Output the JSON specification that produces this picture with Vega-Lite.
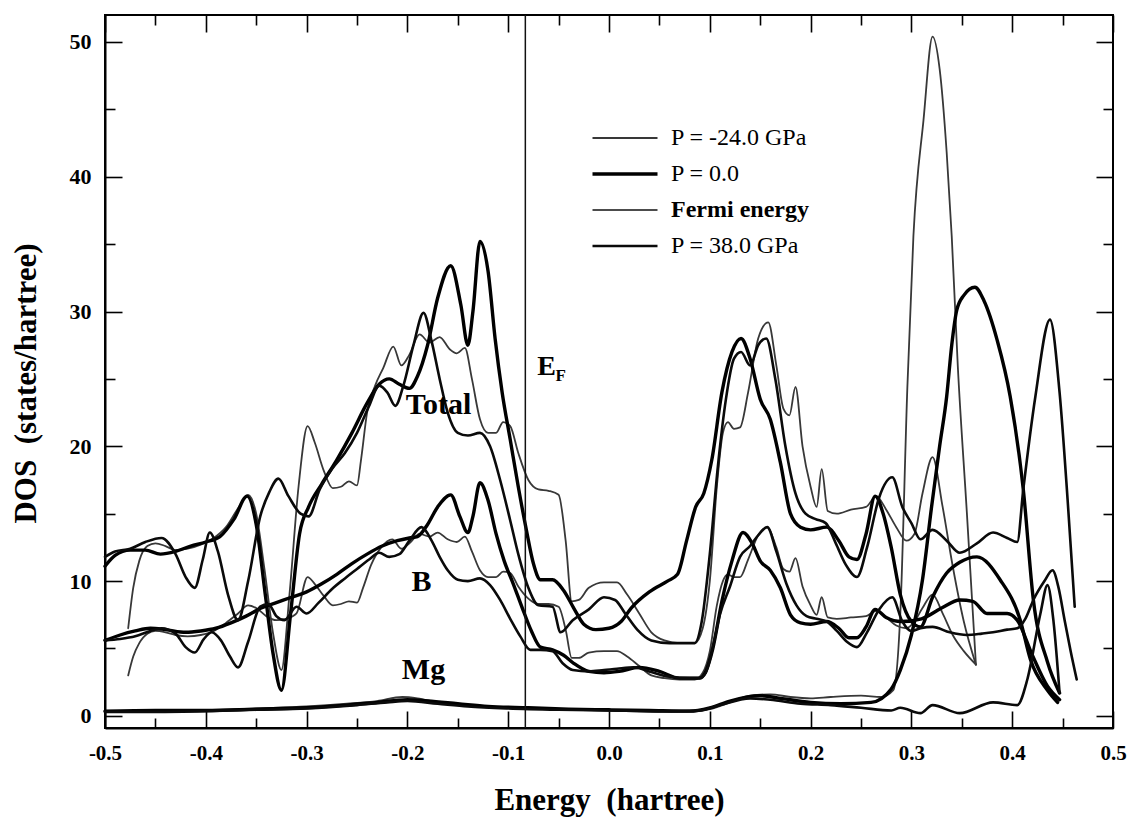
{
"$schema":"https://vega.github.io/schema/vega-lite/v6.json",
"width":1008,"height":713,
"autosize":{"type":"none"},
"padding":{"left":105,"top":15,"right":17,"bottom":99},
"background":"white",
"config":{
 "view":{"stroke":"#000","strokeWidth":2},
 "font":"Liberation Serif",
 "axis":{"grid":false,"domainColor":"#000","domainWidth":2,"tickColor":"#000","tickWidth":1.6,"labelFont":"Liberation Serif","labelFontWeight":"bold","labelColor":"#000","titleFont":"Liberation Serif","titleFontWeight":"bold","titleColor":"#000"},
 "legend":{"orient":"none","legendX":508,"legendY":111,"symbolType":"M-3.25,0H3.25","symbolSize":400,"labelFont":"Liberation Serif","labelFontSize":24,"labelColor":"#000","labelOffset":34,"rowPadding":12,"labelLimit":400},
 "text":{"font":"Liberation Serif","fontWeight":"bold","color":"#000"}
},
"datasets":{
"fermi":[{"p":"c","E":-0.083}],
"labels":[{"t":"Total","E":-0.169,"D":23.1},{"t":"B","E":-0.186,"D":9.9},{"t":"Mg","E":-0.184,"D":3.4}],
"efE":[{"t":"E","E":-0.062,"D":25.9}],
"efF":[{"t":"F","E":-0.062,"D":25.9}],
"curves":[
{"p":"a","c":"T","E":-0.477,"D":6.5},{"p":"a","c":"T","E":-0.472,"D":9.5},{"p":"a","c":"T","E":-0.466,"D":11.5},{"p":"a","c":"T","E":-0.458,"D":12.6},{"p":"a","c":"T","E":-0.45,"D":12.8},{"p":"a","c":"T","E":-0.44,"D":12.6},{"p":"a","c":"T","E":-0.43,"D":12.3},{"p":"a","c":"T","E":-0.418,"D":12.4},{"p":"a","c":"T","E":-0.405,"D":12.7},{"p":"a","c":"T","E":-0.392,"D":13.2},{"p":"a","c":"T","E":-0.38,"D":14.0},{"p":"a","c":"T","E":-0.368,"D":15.4},{"p":"a","c":"T","E":-0.358,"D":16.4},{"p":"a","c":"T","E":-0.35,"D":15.0},{"p":"a","c":"T","E":-0.342,"D":11.0},{"p":"a","c":"T","E":-0.333,"D":6.0},{"p":"a","c":"T","E":-0.325,"D":3.4},{"p":"a","c":"T","E":-0.317,"D":9.0},{"p":"a","c":"T","E":-0.308,"D":17.0},{"p":"a","c":"T","E":-0.299,"D":21.5},{"p":"a","c":"T","E":-0.292,"D":20.3},{"p":"a","c":"T","E":-0.283,"D":18.2},{"p":"a","c":"T","E":-0.274,"D":16.9},{"p":"a","c":"T","E":-0.266,"D":17.0},{"p":"a","c":"T","E":-0.258,"D":17.4},{"p":"a","c":"T","E":-0.25,"D":17.1},{"p":"a","c":"T","E":-0.246,"D":19.0},{"p":"a","c":"T","E":-0.24,"D":22.5},{"p":"a","c":"T","E":-0.232,"D":24.5},{"p":"a","c":"T","E":-0.224,"D":25.8},{"p":"a","c":"T","E":-0.214,"D":27.4},{"p":"a","c":"T","E":-0.206,"D":26.0},{"p":"a","c":"T","E":-0.198,"D":26.8},{"p":"a","c":"T","E":-0.188,"D":28.3},{"p":"a","c":"T","E":-0.178,"D":27.7},{"p":"a","c":"T","E":-0.168,"D":28.1},{"p":"a","c":"T","E":-0.158,"D":27.2},{"p":"a","c":"T","E":-0.151,"D":26.9},{"p":"a","c":"T","E":-0.143,"D":27.3},{"p":"a","c":"T","E":-0.136,"D":25.0},{"p":"a","c":"T","E":-0.128,"D":22.0},{"p":"a","c":"T","E":-0.12,"D":21.0},{"p":"a","c":"T","E":-0.112,"D":21.0},{"p":"a","c":"T","E":-0.105,"D":21.8},{"p":"a","c":"T","E":-0.098,"D":21.5},{"p":"a","c":"T","E":-0.09,"D":19.5},{"p":"a","c":"T","E":-0.08,"D":17.5},{"p":"a","c":"T","E":-0.07,"D":16.8},{"p":"a","c":"T","E":-0.06,"D":16.7},{"p":"a","c":"T","E":-0.05,"D":16.4},{"p":"a","c":"T","E":-0.043,"D":13.0},{"p":"a","c":"T","E":-0.037,"D":8.5},{"p":"a","c":"T","E":-0.03,"D":8.6},{"p":"a","c":"T","E":-0.02,"D":9.5},{"p":"a","c":"T","E":-0.005,"D":9.9},{"p":"a","c":"T","E":0.008,"D":9.9},{"p":"a","c":"T","E":0.018,"D":9.0},{"p":"a","c":"T","E":0.03,"D":7.6},{"p":"a","c":"T","E":0.042,"D":6.2},{"p":"a","c":"T","E":0.055,"D":5.6},{"p":"a","c":"T","E":0.07,"D":5.4},{"p":"a","c":"T","E":0.085,"D":5.4},{"p":"a","c":"T","E":0.093,"D":6.5},{"p":"a","c":"T","E":0.1,"D":10.0},{"p":"a","c":"T","E":0.107,"D":17.0},{"p":"a","c":"T","E":0.113,"D":21.0},{"p":"a","c":"T","E":0.118,"D":21.8},{"p":"a","c":"T","E":0.124,"D":21.3},{"p":"a","c":"T","E":0.13,"D":21.4},{"p":"a","c":"T","E":0.138,"D":24.0},{"p":"a","c":"T","E":0.148,"D":28.0},{"p":"a","c":"T","E":0.158,"D":29.2},{"p":"a","c":"T","E":0.166,"D":26.0},{"p":"a","c":"T","E":0.173,"D":22.8},{"p":"a","c":"T","E":0.179,"D":22.3},{"p":"a","c":"T","E":0.185,"D":24.4},{"p":"a","c":"T","E":0.192,"D":20.0},{"p":"a","c":"T","E":0.2,"D":17.0},{"p":"a","c":"T","E":0.206,"D":15.5},{"p":"a","c":"T","E":0.211,"D":18.3},{"p":"a","c":"T","E":0.217,"D":15.2},{"p":"a","c":"T","E":0.226,"D":15.0},{"p":"a","c":"T","E":0.24,"D":15.3},{"p":"a","c":"T","E":0.255,"D":15.5},{"p":"a","c":"T","E":0.265,"D":16.3},{"p":"a","c":"T","E":0.275,"D":15.3},{"p":"a","c":"T","E":0.285,"D":14.0},{"p":"a","c":"T","E":0.295,"D":13.0},{"p":"a","c":"T","E":0.303,"D":13.5},{"p":"a","c":"T","E":0.311,"D":16.5},{"p":"a","c":"T","E":0.321,"D":19.2},{"p":"a","c":"T","E":0.331,"D":15.5},{"p":"a","c":"T","E":0.341,"D":11.1},{"p":"a","c":"T","E":0.352,"D":7.0},{"p":"a","c":"T","E":0.364,"D":3.8},

{"p":"a","c":"B","E":-0.477,"D":3.0},{"p":"a","c":"B","E":-0.472,"D":4.4},{"p":"a","c":"B","E":-0.466,"D":5.4},{"p":"a","c":"B","E":-0.458,"D":6.1},{"p":"a","c":"B","E":-0.45,"D":6.3},{"p":"a","c":"B","E":-0.44,"D":6.2},{"p":"a","c":"B","E":-0.43,"D":6.0},{"p":"a","c":"B","E":-0.418,"D":5.9},{"p":"a","c":"B","E":-0.405,"D":6.0},{"p":"a","c":"B","E":-0.392,"D":6.3},{"p":"a","c":"B","E":-0.38,"D":6.9},{"p":"a","c":"B","E":-0.368,"D":7.6},{"p":"a","c":"B","E":-0.358,"D":8.2},{"p":"a","c":"B","E":-0.35,"D":8.0},{"p":"a","c":"B","E":-0.34,"D":7.4},{"p":"a","c":"B","E":-0.33,"D":7.1},{"p":"a","c":"B","E":-0.32,"D":7.2},{"p":"a","c":"B","E":-0.31,"D":7.6},{"p":"a","c":"B","E":-0.299,"D":10.3},{"p":"a","c":"B","E":-0.292,"D":9.8},{"p":"a","c":"B","E":-0.283,"D":8.9},{"p":"a","c":"B","E":-0.274,"D":8.2},{"p":"a","c":"B","E":-0.266,"D":8.3},{"p":"a","c":"B","E":-0.258,"D":8.5},{"p":"a","c":"B","E":-0.25,"D":8.4},{"p":"a","c":"B","E":-0.244,"D":9.5},{"p":"a","c":"B","E":-0.236,"D":11.2},{"p":"a","c":"B","E":-0.226,"D":12.5},{"p":"a","c":"B","E":-0.215,"D":13.1},{"p":"a","c":"B","E":-0.206,"D":12.4},{"p":"a","c":"B","E":-0.198,"D":12.8},{"p":"a","c":"B","E":-0.188,"D":13.5},{"p":"a","c":"B","E":-0.178,"D":13.3},{"p":"a","c":"B","E":-0.17,"D":13.6},{"p":"a","c":"B","E":-0.16,"D":13.1},{"p":"a","c":"B","E":-0.151,"D":12.9},{"p":"a","c":"B","E":-0.143,"D":13.3},{"p":"a","c":"B","E":-0.136,"D":12.2},{"p":"a","c":"B","E":-0.128,"D":10.8},{"p":"a","c":"B","E":-0.12,"D":10.3},{"p":"a","c":"B","E":-0.112,"D":10.3},{"p":"a","c":"B","E":-0.105,"D":10.7},{"p":"a","c":"B","E":-0.098,"D":10.6},{"p":"a","c":"B","E":-0.09,"D":9.6},{"p":"a","c":"B","E":-0.08,"D":8.7},{"p":"a","c":"B","E":-0.07,"D":8.3},{"p":"a","c":"B","E":-0.06,"D":8.3},{"p":"a","c":"B","E":-0.05,"D":8.1},{"p":"a","c":"B","E":-0.043,"D":6.4},{"p":"a","c":"B","E":-0.037,"D":4.3},{"p":"a","c":"B","E":-0.03,"D":4.3},{"p":"a","c":"B","E":-0.02,"D":4.7},{"p":"a","c":"B","E":-0.005,"D":4.8},{"p":"a","c":"B","E":0.008,"D":4.8},{"p":"a","c":"B","E":0.018,"D":4.4},{"p":"a","c":"B","E":0.03,"D":3.7},{"p":"a","c":"B","E":0.042,"D":3.0},{"p":"a","c":"B","E":0.055,"D":2.8},{"p":"a","c":"B","E":0.07,"D":2.7},{"p":"a","c":"B","E":0.085,"D":2.7},{"p":"a","c":"B","E":0.093,"D":3.2},{"p":"a","c":"B","E":0.1,"D":4.8},{"p":"a","c":"B","E":0.107,"D":8.2},{"p":"a","c":"B","E":0.113,"D":10.0},{"p":"a","c":"B","E":0.118,"D":10.5},{"p":"a","c":"B","E":0.124,"D":10.3},{"p":"a","c":"B","E":0.13,"D":10.3},{"p":"a","c":"B","E":0.138,"D":11.6},{"p":"a","c":"B","E":0.148,"D":13.4},{"p":"a","c":"B","E":0.157,"D":14.0},{"p":"a","c":"B","E":0.166,"D":12.5},{"p":"a","c":"B","E":0.173,"D":10.9},{"p":"a","c":"B","E":0.179,"D":10.7},{"p":"a","c":"B","E":0.185,"D":11.7},{"p":"a","c":"B","E":0.192,"D":9.6},{"p":"a","c":"B","E":0.2,"D":8.2},{"p":"a","c":"B","E":0.206,"D":7.5},{"p":"a","c":"B","E":0.211,"D":8.8},{"p":"a","c":"B","E":0.217,"D":7.3},{"p":"a","c":"B","E":0.226,"D":7.2},{"p":"a","c":"B","E":0.24,"D":7.3},{"p":"a","c":"B","E":0.255,"D":7.4},{"p":"a","c":"B","E":0.265,"D":7.8},{"p":"a","c":"B","E":0.275,"D":7.3},{"p":"a","c":"B","E":0.285,"D":6.7},{"p":"a","c":"B","E":0.295,"D":6.5},{"p":"a","c":"B","E":0.303,"D":7.0},{"p":"a","c":"B","E":0.311,"D":8.0},{"p":"a","c":"B","E":0.321,"D":9.0},{"p":"a","c":"B","E":0.331,"D":7.6},{"p":"a","c":"B","E":0.341,"D":6.0},{"p":"a","c":"B","E":0.352,"D":4.8},{"p":"a","c":"B","E":0.364,"D":3.8},

{"p":"a","c":"Mg","E":-0.477,"D":0.3},{"p":"a","c":"Mg","E":-0.45,"D":0.35},{"p":"a","c":"Mg","E":-0.4,"D":0.4},{"p":"a","c":"Mg","E":-0.35,"D":0.55},{"p":"a","c":"Mg","E":-0.3,"D":0.7},{"p":"a","c":"Mg","E":-0.26,"D":0.9},{"p":"a","c":"Mg","E":-0.23,"D":1.1},{"p":"a","c":"Mg","E":-0.205,"D":1.4},{"p":"a","c":"Mg","E":-0.19,"D":1.3},{"p":"a","c":"Mg","E":-0.17,"D":1.0},{"p":"a","c":"Mg","E":-0.14,"D":0.8},{"p":"a","c":"Mg","E":-0.1,"D":0.6},{"p":"a","c":"Mg","E":-0.05,"D":0.5},{"p":"a","c":"Mg","E":0.0,"D":0.4},{"p":"a","c":"Mg","E":0.05,"D":0.3},{"p":"a","c":"Mg","E":0.08,"D":0.3},{"p":"a","c":"Mg","E":0.1,"D":0.5},{"p":"a","c":"Mg","E":0.12,"D":1.0},{"p":"a","c":"Mg","E":0.14,"D":1.5},{"p":"a","c":"Mg","E":0.16,"D":1.6},{"p":"a","c":"Mg","E":0.18,"D":1.4},{"p":"a","c":"Mg","E":0.2,"D":1.3},{"p":"a","c":"Mg","E":0.22,"D":1.4},{"p":"a","c":"Mg","E":0.25,"D":1.5},{"p":"a","c":"Mg","E":0.27,"D":1.4},{"p":"a","c":"Mg","E":0.282,"D":1.9},{"p":"a","c":"Mg","E":0.289,"D":7.6},{"p":"a","c":"Mg","E":0.296,"D":24.4},{"p":"a","c":"Mg","E":0.302,"D":35.6},{"p":"a","c":"Mg","E":0.312,"D":44.2},{"p":"a","c":"Mg","E":0.321,"D":50.4},{"p":"a","c":"Mg","E":0.328,"D":48.0},{"p":"a","c":"Mg","E":0.335,"D":41.8},{"p":"a","c":"Mg","E":0.34,"D":35.6},{"p":"a","c":"Mg","E":0.346,"D":26.0},{"p":"a","c":"Mg","E":0.355,"D":15.1},{"p":"a","c":"Mg","E":0.364,"D":3.8},

{"p":"b","c":"T","E":-0.5,"D":11.1},{"p":"b","c":"T","E":-0.49,"D":11.9},{"p":"b","c":"T","E":-0.475,"D":12.3},{"p":"b","c":"T","E":-0.46,"D":12.3},{"p":"b","c":"T","E":-0.445,"D":12.0},{"p":"b","c":"T","E":-0.43,"D":12.2},{"p":"b","c":"T","E":-0.415,"D":12.6},{"p":"b","c":"T","E":-0.4,"D":12.9},{"p":"b","c":"T","E":-0.386,"D":13.3},{"p":"b","c":"T","E":-0.372,"D":14.6},{"p":"b","c":"T","E":-0.359,"D":16.3},{"p":"b","c":"T","E":-0.35,"D":14.2},{"p":"b","c":"T","E":-0.341,"D":9.0},{"p":"b","c":"T","E":-0.333,"D":4.5},{"p":"b","c":"T","E":-0.325,"D":1.9},{"p":"b","c":"T","E":-0.316,"D":7.5},{"p":"b","c":"T","E":-0.307,"D":13.5},{"p":"b","c":"T","E":-0.298,"D":15.5},{"p":"b","c":"T","E":-0.285,"D":17.2},{"p":"b","c":"T","E":-0.27,"D":19.0},{"p":"b","c":"T","E":-0.255,"D":21.0},{"p":"b","c":"T","E":-0.24,"D":23.2},{"p":"b","c":"T","E":-0.228,"D":24.6},{"p":"b","c":"T","E":-0.218,"D":25.0},{"p":"b","c":"T","E":-0.208,"D":24.6},{"p":"b","c":"T","E":-0.198,"D":24.3},{"p":"b","c":"T","E":-0.19,"D":25.2},{"p":"b","c":"T","E":-0.18,"D":27.5},{"p":"b","c":"T","E":-0.17,"D":31.0},{"p":"b","c":"T","E":-0.157,"D":33.4},{"p":"b","c":"T","E":-0.147,"D":30.5},{"p":"b","c":"T","E":-0.14,"D":27.5},{"p":"b","c":"T","E":-0.135,"D":30.0},{"p":"b","c":"T","E":-0.128,"D":35.2},{"p":"b","c":"T","E":-0.12,"D":33.0},{"p":"b","c":"T","E":-0.113,"D":28.0},{"p":"b","c":"T","E":-0.106,"D":24.0},{"p":"b","c":"T","E":-0.098,"D":20.5},{"p":"b","c":"T","E":-0.09,"D":17.0},{"p":"b","c":"T","E":-0.082,"D":13.8},{"p":"b","c":"T","E":-0.075,"D":11.3},{"p":"b","c":"T","E":-0.068,"D":10.1},{"p":"b","c":"T","E":-0.056,"D":10.1},{"p":"b","c":"T","E":-0.045,"D":9.3},{"p":"b","c":"T","E":-0.035,"D":8.0},{"p":"b","c":"T","E":-0.025,"D":6.8},{"p":"b","c":"T","E":-0.013,"D":6.4},{"p":"b","c":"T","E":0.0,"D":6.5},{"p":"b","c":"T","E":0.012,"D":7.0},{"p":"b","c":"T","E":0.022,"D":8.0},{"p":"b","c":"T","E":0.04,"D":9.2},{"p":"b","c":"T","E":0.058,"D":10.0},{"p":"b","c":"T","E":0.068,"D":10.5},{"p":"b","c":"T","E":0.077,"D":13.0},{"p":"b","c":"T","E":0.086,"D":15.5},{"p":"b","c":"T","E":0.094,"D":16.5},{"p":"b","c":"T","E":0.102,"D":19.0},{"p":"b","c":"T","E":0.112,"D":24.0},{"p":"b","c":"T","E":0.122,"D":27.0},{"p":"b","c":"T","E":0.131,"D":28.0},{"p":"b","c":"T","E":0.14,"D":26.5},{"p":"b","c":"T","E":0.15,"D":23.5},{"p":"b","c":"T","E":0.16,"D":22.0},{"p":"b","c":"T","E":0.17,"D":18.8},{"p":"b","c":"T","E":0.18,"D":15.0},{"p":"b","c":"T","E":0.19,"D":14.0},{"p":"b","c":"T","E":0.2,"D":13.8},{"p":"b","c":"T","E":0.216,"D":14.0},{"p":"b","c":"T","E":0.228,"D":13.0},{"p":"b","c":"T","E":0.238,"D":11.8},{"p":"b","c":"T","E":0.246,"D":11.6},{"p":"b","c":"T","E":0.255,"D":13.5},{"p":"b","c":"T","E":0.264,"D":16.3},{"p":"b","c":"T","E":0.272,"D":15.0},{"p":"b","c":"T","E":0.28,"D":12.5},{"p":"b","c":"T","E":0.289,"D":9.0},{"p":"b","c":"T","E":0.3,"D":7.0},{"p":"b","c":"T","E":0.309,"D":6.6},{"p":"b","c":"T","E":0.321,"D":8.8},{"p":"b","c":"T","E":0.335,"D":10.6},{"p":"b","c":"T","E":0.348,"D":11.4},{"p":"b","c":"T","E":0.365,"D":11.8},{"p":"b","c":"T","E":0.388,"D":10.1},{"p":"b","c":"T","E":0.408,"D":7.1},{"p":"b","c":"T","E":0.418,"D":4.2},{"p":"b","c":"T","E":0.435,"D":1.9},{"p":"b","c":"T","E":0.445,"D":1.0},

{"p":"b","c":"B","E":-0.5,"D":5.6},{"p":"b","c":"B","E":-0.485,"D":6.0},{"p":"b","c":"B","E":-0.47,"D":6.3},{"p":"b","c":"B","E":-0.455,"D":6.5},{"p":"b","c":"B","E":-0.44,"D":6.4},{"p":"b","c":"B","E":-0.42,"D":6.2},{"p":"b","c":"B","E":-0.405,"D":6.3},{"p":"b","c":"B","E":-0.39,"D":6.5},{"p":"b","c":"B","E":-0.375,"D":6.9},{"p":"b","c":"B","E":-0.36,"D":7.4},{"p":"b","c":"B","E":-0.345,"D":8.0},{"p":"b","c":"B","E":-0.33,"D":8.4},{"p":"b","c":"B","E":-0.315,"D":8.8},{"p":"b","c":"B","E":-0.3,"D":9.2},{"p":"b","c":"B","E":-0.285,"D":9.8},{"p":"b","c":"B","E":-0.27,"D":10.5},{"p":"b","c":"B","E":-0.255,"D":11.3},{"p":"b","c":"B","E":-0.24,"D":12.0},{"p":"b","c":"B","E":-0.225,"D":12.6},{"p":"b","c":"B","E":-0.21,"D":13.0},{"p":"b","c":"B","E":-0.198,"D":13.2},{"p":"b","c":"B","E":-0.19,"D":13.3},{"p":"b","c":"B","E":-0.18,"D":14.2},{"p":"b","c":"B","E":-0.17,"D":15.5},{"p":"b","c":"B","E":-0.157,"D":16.4},{"p":"b","c":"B","E":-0.148,"D":14.8},{"p":"b","c":"B","E":-0.14,"D":13.6},{"p":"b","c":"B","E":-0.135,"D":14.8},{"p":"b","c":"B","E":-0.128,"D":17.3},{"p":"b","c":"B","E":-0.12,"D":16.0},{"p":"b","c":"B","E":-0.112,"D":13.5},{"p":"b","c":"B","E":-0.104,"D":11.5},{"p":"b","c":"B","E":-0.095,"D":9.8},{"p":"b","c":"B","E":-0.086,"D":8.0},{"p":"b","c":"B","E":-0.077,"D":6.3},{"p":"b","c":"B","E":-0.068,"D":5.1},{"p":"b","c":"B","E":-0.056,"D":4.9},{"p":"b","c":"B","E":-0.045,"D":4.5},{"p":"b","c":"B","E":-0.035,"D":3.9},{"p":"b","c":"B","E":-0.02,"D":3.3},{"p":"b","c":"B","E":-0.005,"D":3.2},{"p":"b","c":"B","E":0.01,"D":3.3},{"p":"b","c":"B","E":0.03,"D":3.6},{"p":"b","c":"B","E":0.05,"D":3.3},{"p":"b","c":"B","E":0.07,"D":2.8},{"p":"b","c":"B","E":0.09,"D":2.8},{"p":"b","c":"B","E":0.096,"D":3.3},{"p":"b","c":"B","E":0.103,"D":5.0},{"p":"b","c":"B","E":0.112,"D":8.5},{"p":"b","c":"B","E":0.122,"D":11.5},{"p":"b","c":"B","E":0.133,"D":13.6},{"p":"b","c":"B","E":0.142,"D":12.8},{"p":"b","c":"B","E":0.15,"D":11.5},{"p":"b","c":"B","E":0.16,"D":10.8},{"p":"b","c":"B","E":0.17,"D":9.5},{"p":"b","c":"B","E":0.18,"D":7.5},{"p":"b","c":"B","E":0.19,"D":6.9},{"p":"b","c":"B","E":0.2,"D":6.8},{"p":"b","c":"B","E":0.216,"D":7.0},{"p":"b","c":"B","E":0.228,"D":6.5},{"p":"b","c":"B","E":0.238,"D":5.8},{"p":"b","c":"B","E":0.246,"D":5.8},{"p":"b","c":"B","E":0.255,"D":6.6},{"p":"b","c":"B","E":0.264,"D":7.9},{"p":"b","c":"B","E":0.275,"D":7.3},{"p":"b","c":"B","E":0.29,"D":7.0},{"p":"b","c":"B","E":0.31,"D":7.2},{"p":"b","c":"B","E":0.33,"D":8.0},{"p":"b","c":"B","E":0.348,"D":8.6},{"p":"b","c":"B","E":0.361,"D":8.5},{"p":"b","c":"B","E":0.375,"D":7.6},{"p":"b","c":"B","E":0.395,"D":7.6},{"p":"b","c":"B","E":0.405,"D":7.1},{"p":"b","c":"B","E":0.42,"D":4.5},{"p":"b","c":"B","E":0.435,"D":2.2},{"p":"b","c":"B","E":0.447,"D":1.2},

{"p":"b","c":"Mg","E":-0.5,"D":0.35},{"p":"b","c":"Mg","E":-0.45,"D":0.4},{"p":"b","c":"Mg","E":-0.4,"D":0.4},{"p":"b","c":"Mg","E":-0.35,"D":0.5},{"p":"b","c":"Mg","E":-0.3,"D":0.6},{"p":"b","c":"Mg","E":-0.26,"D":0.8},{"p":"b","c":"Mg","E":-0.23,"D":1.0},{"p":"b","c":"Mg","E":-0.2,"D":1.2},{"p":"b","c":"Mg","E":-0.18,"D":1.1},{"p":"b","c":"Mg","E":-0.15,"D":0.9},{"p":"b","c":"Mg","E":-0.12,"D":0.7},{"p":"b","c":"Mg","E":-0.08,"D":0.6},{"p":"b","c":"Mg","E":-0.04,"D":0.5},{"p":"b","c":"Mg","E":0.0,"D":0.45},{"p":"b","c":"Mg","E":0.04,"D":0.4},{"p":"b","c":"Mg","E":0.08,"D":0.35},{"p":"b","c":"Mg","E":0.1,"D":0.6},{"p":"b","c":"Mg","E":0.12,"D":1.1},{"p":"b","c":"Mg","E":0.15,"D":1.5},{"p":"b","c":"Mg","E":0.17,"D":1.3},{"p":"b","c":"Mg","E":0.2,"D":1.0},{"p":"b","c":"Mg","E":0.23,"D":0.9},{"p":"b","c":"Mg","E":0.26,"D":1.0},{"p":"b","c":"Mg","E":0.28,"D":2.0},{"p":"b","c":"Mg","E":0.289,"D":3.4},{"p":"b","c":"Mg","E":0.3,"D":6.0},{"p":"b","c":"Mg","E":0.311,"D":10.1},{"p":"b","c":"Mg","E":0.32,"D":15.5},{"p":"b","c":"Mg","E":0.328,"D":20.0},{"p":"b","c":"Mg","E":0.335,"D":23.7},{"p":"b","c":"Mg","E":0.34,"D":27.5},{"p":"b","c":"Mg","E":0.345,"D":30.1},{"p":"b","c":"Mg","E":0.352,"D":31.2},{"p":"b","c":"Mg","E":0.363,"D":31.8},{"p":"b","c":"Mg","E":0.372,"D":30.8},{"p":"b","c":"Mg","E":0.385,"D":27.9},{"p":"b","c":"Mg","E":0.398,"D":23.7},{"p":"b","c":"Mg","E":0.411,"D":16.8},{"p":"b","c":"Mg","E":0.421,"D":8.6},{"p":"b","c":"Mg","E":0.435,"D":4.0},{"p":"b","c":"Mg","E":0.447,"D":1.7},

{"p":"d","c":"T","E":-0.5,"D":11.8},{"p":"d","c":"T","E":-0.49,"D":12.2},{"p":"d","c":"T","E":-0.475,"D":12.4},{"p":"d","c":"T","E":-0.46,"D":12.9},{"p":"d","c":"T","E":-0.444,"D":13.2},{"p":"d","c":"T","E":-0.43,"D":12.0},{"p":"d","c":"T","E":-0.42,"D":10.3},{"p":"d","c":"T","E":-0.411,"D":9.5},{"p":"d","c":"T","E":-0.403,"D":11.6},{"p":"d","c":"T","E":-0.396,"D":13.6},{"p":"d","c":"T","E":-0.388,"D":12.2},{"p":"d","c":"T","E":-0.378,"D":9.0},{"p":"d","c":"T","E":-0.368,"D":7.1},{"p":"d","c":"T","E":-0.358,"D":10.0},{"p":"d","c":"T","E":-0.346,"D":14.8},{"p":"d","c":"T","E":-0.337,"D":16.6},{"p":"d","c":"T","E":-0.328,"D":17.6},{"p":"d","c":"T","E":-0.318,"D":16.3},{"p":"d","c":"T","E":-0.306,"D":15.0},{"p":"d","c":"T","E":-0.298,"D":14.8},{"p":"d","c":"T","E":-0.287,"D":16.8},{"p":"d","c":"T","E":-0.275,"D":18.3},{"p":"d","c":"T","E":-0.262,"D":19.5},{"p":"d","c":"T","E":-0.25,"D":21.0},{"p":"d","c":"T","E":-0.238,"D":23.0},{"p":"d","c":"T","E":-0.228,"D":24.5},{"p":"d","c":"T","E":-0.22,"D":24.0},{"p":"d","c":"T","E":-0.212,"D":23.0},{"p":"d","c":"T","E":-0.204,"D":24.5},{"p":"d","c":"T","E":-0.194,"D":27.5},{"p":"d","c":"T","E":-0.184,"D":29.9},{"p":"d","c":"T","E":-0.176,"D":27.8},{"p":"d","c":"T","E":-0.168,"D":25.0},{"p":"d","c":"T","E":-0.16,"D":22.5},{"p":"d","c":"T","E":-0.15,"D":21.0},{"p":"d","c":"T","E":-0.14,"D":20.8},{"p":"d","c":"T","E":-0.128,"D":21.0},{"p":"d","c":"T","E":-0.118,"D":20.0},{"p":"d","c":"T","E":-0.108,"D":17.5},{"p":"d","c":"T","E":-0.098,"D":14.5},{"p":"d","c":"T","E":-0.09,"D":12.0},{"p":"d","c":"T","E":-0.08,"D":9.5},{"p":"d","c":"T","E":-0.07,"D":8.2},{"p":"d","c":"T","E":-0.056,"D":8.1},{"p":"d","c":"T","E":-0.048,"D":6.2},{"p":"d","c":"T","E":-0.036,"D":7.1},{"p":"d","c":"T","E":-0.02,"D":7.9},{"p":"d","c":"T","E":-0.005,"D":8.8},{"p":"d","c":"T","E":0.006,"D":8.6},{"p":"d","c":"T","E":0.016,"D":7.6},{"p":"d","c":"T","E":0.028,"D":6.4},{"p":"d","c":"T","E":0.042,"D":5.6},{"p":"d","c":"T","E":0.06,"D":5.4},{"p":"d","c":"T","E":0.085,"D":5.4},{"p":"d","c":"T","E":0.092,"D":7.0},{"p":"d","c":"T","E":0.1,"D":12.0},{"p":"d","c":"T","E":0.108,"D":18.5},{"p":"d","c":"T","E":0.116,"D":23.5},{"p":"d","c":"T","E":0.124,"D":26.5},{"p":"d","c":"T","E":0.131,"D":27.0},{"p":"d","c":"T","E":0.14,"D":26.0},{"p":"d","c":"T","E":0.148,"D":27.5},{"p":"d","c":"T","E":0.156,"D":28.0},{"p":"d","c":"T","E":0.165,"D":25.0},{"p":"d","c":"T","E":0.175,"D":20.0},{"p":"d","c":"T","E":0.185,"D":16.5},{"p":"d","c":"T","E":0.195,"D":15.0},{"p":"d","c":"T","E":0.205,"D":14.6},{"p":"d","c":"T","E":0.215,"D":14.3},{"p":"d","c":"T","E":0.225,"D":12.8},{"p":"d","c":"T","E":0.235,"D":11.2},{"p":"d","c":"T","E":0.246,"D":10.3},{"p":"d","c":"T","E":0.256,"D":12.5},{"p":"d","c":"T","E":0.268,"D":16.2},{"p":"d","c":"T","E":0.281,"D":17.7},{"p":"d","c":"T","E":0.291,"D":15.5},{"p":"d","c":"T","E":0.3,"D":14.3},{"p":"d","c":"T","E":0.309,"D":13.1},{"p":"d","c":"T","E":0.321,"D":13.8},{"p":"d","c":"T","E":0.335,"D":13.0},{"p":"d","c":"T","E":0.348,"D":12.1},{"p":"d","c":"T","E":0.365,"D":12.8},{"p":"d","c":"T","E":0.381,"D":13.6},{"p":"d","c":"T","E":0.395,"D":13.2},{"p":"d","c":"T","E":0.405,"D":12.9},{"p":"d","c":"T","E":0.411,"D":16.8},{"p":"d","c":"T","E":0.423,"D":23.7},{"p":"d","c":"T","E":0.4375,"D":29.4},{"p":"d","c":"T","E":0.447,"D":24.0},{"p":"d","c":"T","E":0.455,"D":16.0},{"p":"d","c":"T","E":0.462,"D":8.1},

{"p":"d","c":"B","E":-0.5,"D":5.6},{"p":"d","c":"B","E":-0.485,"D":5.7},{"p":"d","c":"B","E":-0.47,"D":5.9},{"p":"d","c":"B","E":-0.455,"D":6.3},{"p":"d","c":"B","E":-0.444,"D":6.5},{"p":"d","c":"B","E":-0.43,"D":6.1},{"p":"d","c":"B","E":-0.42,"D":5.1},{"p":"d","c":"B","E":-0.411,"D":4.7},{"p":"d","c":"B","E":-0.402,"D":5.7},{"p":"d","c":"B","E":-0.394,"D":6.2},{"p":"d","c":"B","E":-0.385,"D":5.6},{"p":"d","c":"B","E":-0.376,"D":4.4},{"p":"d","c":"B","E":-0.368,"D":3.6},{"p":"d","c":"B","E":-0.358,"D":5.5},{"p":"d","c":"B","E":-0.346,"D":8.1},{"p":"d","c":"B","E":-0.338,"D":8.3},{"p":"d","c":"B","E":-0.33,"D":7.4},{"p":"d","c":"B","E":-0.322,"D":7.1},{"p":"d","c":"B","E":-0.31,"D":8.1},{"p":"d","c":"B","E":-0.3,"D":7.6},{"p":"d","c":"B","E":-0.288,"D":8.4},{"p":"d","c":"B","E":-0.275,"D":9.4},{"p":"d","c":"B","E":-0.262,"D":10.2},{"p":"d","c":"B","E":-0.25,"D":10.9},{"p":"d","c":"B","E":-0.238,"D":11.6},{"p":"d","c":"B","E":-0.228,"D":12.1},{"p":"d","c":"B","E":-0.218,"D":11.8},{"p":"d","c":"B","E":-0.208,"D":12.0},{"p":"d","c":"B","E":-0.198,"D":13.0},{"p":"d","c":"B","E":-0.186,"D":14.0},{"p":"d","c":"B","E":-0.176,"D":13.0},{"p":"d","c":"B","E":-0.168,"D":11.8},{"p":"d","c":"B","E":-0.16,"D":10.8},{"p":"d","c":"B","E":-0.15,"D":10.1},{"p":"d","c":"B","E":-0.14,"D":10.0},{"p":"d","c":"B","E":-0.128,"D":10.2},{"p":"d","c":"B","E":-0.118,"D":9.7},{"p":"d","c":"B","E":-0.108,"D":8.6},{"p":"d","c":"B","E":-0.098,"D":7.2},{"p":"d","c":"B","E":-0.088,"D":5.9},{"p":"d","c":"B","E":-0.078,"D":4.9},{"p":"d","c":"B","E":-0.068,"D":4.9},{"p":"d","c":"B","E":-0.056,"D":4.8},{"p":"d","c":"B","E":-0.046,"D":3.9},{"p":"d","c":"B","E":-0.036,"D":3.4},{"p":"d","c":"B","E":-0.02,"D":3.3},{"p":"d","c":"B","E":-0.005,"D":3.4},{"p":"d","c":"B","E":0.008,"D":3.5},{"p":"d","c":"B","E":0.025,"D":3.6},{"p":"d","c":"B","E":0.04,"D":3.3},{"p":"d","c":"B","E":0.06,"D":2.9},{"p":"d","c":"B","E":0.08,"D":2.8},{"p":"d","c":"B","E":0.09,"D":2.8},{"p":"d","c":"B","E":0.096,"D":3.2},{"p":"d","c":"B","E":0.103,"D":5.1},{"p":"d","c":"B","E":0.11,"D":7.5},{"p":"d","c":"B","E":0.12,"D":9.6},{"p":"d","c":"B","E":0.13,"D":11.8},{"p":"d","c":"B","E":0.14,"D":12.6},{"p":"d","c":"B","E":0.148,"D":13.4},{"p":"d","c":"B","E":0.157,"D":14.0},{"p":"d","c":"B","E":0.166,"D":12.2},{"p":"d","c":"B","E":0.176,"D":9.8},{"p":"d","c":"B","E":0.186,"D":8.2},{"p":"d","c":"B","E":0.196,"D":7.4},{"p":"d","c":"B","E":0.206,"D":7.2},{"p":"d","c":"B","E":0.216,"D":7.0},{"p":"d","c":"B","E":0.226,"D":6.3},{"p":"d","c":"B","E":0.236,"D":5.5},{"p":"d","c":"B","E":0.246,"D":5.1},{"p":"d","c":"B","E":0.256,"D":6.2},{"p":"d","c":"B","E":0.268,"D":7.9},{"p":"d","c":"B","E":0.281,"D":8.8},{"p":"d","c":"B","E":0.291,"D":7.0},{"p":"d","c":"B","E":0.3,"D":6.3},{"p":"d","c":"B","E":0.309,"D":6.5},{"p":"d","c":"B","E":0.321,"D":6.6},{"p":"d","c":"B","E":0.338,"D":6.2},{"p":"d","c":"B","E":0.355,"D":6.0},{"p":"d","c":"B","E":0.37,"D":6.1},{"p":"d","c":"B","E":0.381,"D":6.2},{"p":"d","c":"B","E":0.395,"D":6.4},{"p":"d","c":"B","E":0.405,"D":6.5},{"p":"d","c":"B","E":0.413,"D":7.2},{"p":"d","c":"B","E":0.421,"D":8.6},{"p":"d","c":"B","E":0.432,"D":10.0},{"p":"d","c":"B","E":0.44,"D":10.8},{"p":"d","c":"B","E":0.446,"D":9.5},{"p":"d","c":"B","E":0.452,"D":7.1},{"p":"d","c":"B","E":0.458,"D":4.8},{"p":"d","c":"B","E":0.464,"D":2.7},

{"p":"d","c":"Mg","E":-0.5,"D":0.3},{"p":"d","c":"Mg","E":-0.45,"D":0.3},{"p":"d","c":"Mg","E":-0.4,"D":0.35},{"p":"d","c":"Mg","E":-0.35,"D":0.45},{"p":"d","c":"Mg","E":-0.3,"D":0.55},{"p":"d","c":"Mg","E":-0.25,"D":0.8},{"p":"d","c":"Mg","E":-0.22,"D":1.0},{"p":"d","c":"Mg","E":-0.2,"D":1.1},{"p":"d","c":"Mg","E":-0.17,"D":0.9},{"p":"d","c":"Mg","E":-0.14,"D":0.7},{"p":"d","c":"Mg","E":-0.1,"D":0.55},{"p":"d","c":"Mg","E":-0.05,"D":0.45},{"p":"d","c":"Mg","E":0.0,"D":0.4},{"p":"d","c":"Mg","E":0.05,"D":0.35},{"p":"d","c":"Mg","E":0.09,"D":0.4},{"p":"d","c":"Mg","E":0.11,"D":0.8},{"p":"d","c":"Mg","E":0.14,"D":1.3},{"p":"d","c":"Mg","E":0.16,"D":1.2},{"p":"d","c":"Mg","E":0.19,"D":0.9},{"p":"d","c":"Mg","E":0.22,"D":0.8},{"p":"d","c":"Mg","E":0.25,"D":0.6},{"p":"d","c":"Mg","E":0.28,"D":0.4},{"p":"d","c":"Mg","E":0.289,"D":0.6},{"p":"d","c":"Mg","E":0.309,"D":0.2},{"p":"d","c":"Mg","E":0.321,"D":0.8},{"p":"d","c":"Mg","E":0.348,"D":0.2},{"p":"d","c":"Mg","E":0.381,"D":1.0},{"p":"d","c":"Mg","E":0.405,"D":0.8},{"p":"d","c":"Mg","E":0.415,"D":2.7},{"p":"d","c":"Mg","E":0.428,"D":7.6},{"p":"d","c":"Mg","E":0.435,"D":9.7},{"p":"d","c":"Mg","E":0.441,"D":7.0},{"p":"d","c":"Mg","E":0.447,"D":1.7}
]},
"resolve":{"axis":{"x":"independent","y":"independent"}},
"layer":[
{"data":{"name":"curves"},
 "mark":{"type":"line","interpolate":"monotone","strokeJoin":"round","strokeCap":"round"},
 "encoding":{
  "x":{"field":"E","type":"quantitative","scale":{"domain":[-0.5,0.5],"nice":false,"zero":false},
       "axis":{"orient":"bottom","values":[-0.5,-0.4,-0.3,-0.2,-0.1,0,0.1,0.2,0.3,0.4,0.5],"tickSize":-17,"labelPadding":31,"labelFontSize":21,"labelExpr":"replace(format(datum.value,'.1f'),'\u2212','-')","labelFlush":false,"labelOverlap":false,"title":"Energy\u00a0 (hartree)","titleFontSize":31,"titlePadding":22}},
  "y":{"field":"D","type":"quantitative","scale":{"domain":[-0.9,52],"nice":false,"zero":false},
       "axis":{"orient":"left","values":[0,10,20,30,40,50],"tickSize":-17,"labelPadding":31,"labelFontSize":22,"labelOverlap":false,"title":"DOS\u00a0 (states/hartree)","titleFontSize":31,"titleX":-63,"titleY":368}},
  "color":{"field":"p","type":"nominal","scale":{"type":"ordinal","domain":["a","b","c","d"],"range":["#383838","#000000","#111111","#0a0a0a"]},
           "legend":{"title":null,"labelExpr":"datum.value=='a'?'P = -24.0 GPa':datum.value=='b'?'P = 0.0':datum.value=='c'?'Fermi energy':'P = 38.0 GPa'","encode":{"labels":{"update":{"fontWeight":{"signal":"datum.value=='c'?'bold':'normal'"}}}}}},
  "strokeWidth":{"field":"p","type":"nominal","scale":{"type":"ordinal","domain":["a","b","c","d"],"range":[1.8,3.4,1.5,2.6]},
           "legend":{"title":null,"labelExpr":"datum.value=='a'?'P = -24.0 GPa':datum.value=='b'?'P = 0.0':datum.value=='c'?'Fermi energy':'P = 38.0 GPa'","encode":{"labels":{"update":{"fontWeight":{"signal":"datum.value=='c'?'bold':'normal'"}}}}}},
  "detail":{"field":"c","type":"nominal"}
 }},
{"data":{"name":"fermi"},
 "mark":{"type":"rule"},
 "encoding":{
  "x":{"field":"E","type":"quantitative","axis":{"orient":"top","values":[-0.5,-0.4,-0.3,-0.2,-0.1,0,0.1,0.2,0.3,0.4,0.5],"tickSize":-17,"labels":false,"domain":false,"title":null}},
  "color":{"field":"p","type":"nominal","scale":{"type":"ordinal","domain":["a","b","c","d"],"range":["#383838","#000000","#111111","#0a0a0a"]},
           "legend":{"title":null,"labelExpr":"datum.value=='a'?'P = -24.0 GPa':datum.value=='b'?'P = 0.0':datum.value=='c'?'Fermi energy':'P = 38.0 GPa'","encode":{"labels":{"update":{"fontWeight":{"signal":"datum.value=='c'?'bold':'normal'"}}}}}},
  "strokeWidth":{"field":"p","type":"nominal","scale":{"type":"ordinal","domain":["a","b","c","d"],"range":[1.8,3.4,1.5,2.6]},
           "legend":{"title":null,"labelExpr":"datum.value=='a'?'P = -24.0 GPa':datum.value=='b'?'P = 0.0':datum.value=='c'?'Fermi energy':'P = 38.0 GPa'","encode":{"labels":{"update":{"fontWeight":{"signal":"datum.value=='c'?'bold':'normal'"}}}}}}
 }},
{"data":{"name":"labels"},
 "mark":{"type":"text","fontSize":30,"fontWeight":"bold","font":"Liberation Serif","align":"center","baseline":"middle"},
 "encoding":{
  "x":{"field":"E","type":"quantitative","axis":{"orient":"bottom","values":[-0.45,-0.35,-0.25,-0.15,-0.05,0.05,0.15,0.25,0.35,0.45],"tickSize":-10,"labels":false,"domain":false,"title":null}},
  "y":{"field":"D","type":"quantitative","axis":{"orient":"left","values":[5,15,25,35,45],"tickSize":-10,"labels":false,"domain":false,"title":null}},
  "text":{"field":"t"}
 }},
{"data":{"name":"efE"},
 "mark":{"type":"text","fontSize":28,"fontWeight":"bold","font":"Liberation Serif","align":"center","baseline":"middle"},
 "encoding":{
  "x":{"field":"E","type":"quantitative","axis":{"orient":"top","values":[-0.45,-0.35,-0.25,-0.15,-0.05,0.05,0.15,0.25,0.35,0.45],"tickSize":-10,"labels":false,"domain":false,"title":null}},
  "y":{"field":"D","type":"quantitative","axis":{"orient":"right","values":[0,10,20,30,40,50],"tickSize":-17,"labels":false,"domain":false,"title":null}},
  "text":{"field":"t"}
 }},
{"data":{"name":"efF"},
 "mark":{"type":"text","fontSize":17,"fontWeight":"bold","font":"Liberation Serif","align":"left","baseline":"middle","dx":9,"dy":9},
 "encoding":{
  "x":{"field":"E","type":"quantitative","axis":null},
  "y":{"field":"D","type":"quantitative","axis":{"orient":"right","values":[5,15,25,35,45],"tickSize":-10,"labels":false,"domain":false,"title":null}},
  "text":{"field":"t"}
 }}
]
}
